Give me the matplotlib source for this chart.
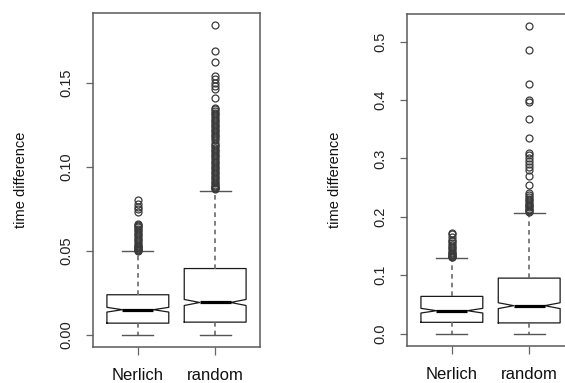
import matplotlib
matplotlib.use('Agg')
from matplotlib import pyplot as plt

# two boxplot panels, R style notched boxes
groups = ['Nerlich', 'random']

left_q1 = [0.0068, 0.0074]
left_med = [0.0148, 0.0191]
left_q3 = [0.0237, 0.0393]
left_whislo = [0.0, 0.0]
left_whishi = [0.0496, 0.0855]
left_notch = [0.0014, 0.0018]
left_fliers_nerlich = [0.0500, 0.0503, 0.0506, 0.051, 0.0515, 0.052, 0.0525, 0.053, 0.054,
                       0.055, 0.056, 0.057, 0.058, 0.059, 0.060, 0.061, 0.062, 0.063, 0.064,
                       0.0645, 0.065, 0.066, 0.073, 0.0745, 0.076, 0.078, 0.080]
left_fliers_random = [0.0865, 0.087, 0.0875, 0.088, 0.0885, 0.089, 0.090, 0.091, 0.092, 0.093,
                      0.094, 0.095, 0.096, 0.097, 0.098, 0.099, 0.100, 0.101, 0.102, 0.103,
                      0.104, 0.105, 0.106, 0.107, 0.108, 0.109, 0.110, 0.111, 0.112, 0.113,
                      0.114, 0.116, 0.117, 0.118, 0.119, 0.120, 0.121, 0.122, 0.123, 0.124,
                      0.125, 0.126, 0.127, 0.128, 0.129, 0.130, 0.131, 0.132, 0.133, 0.134,
                      0.135, 0.141, 0.146, 0.148, 0.150, 0.152, 0.154, 0.162, 0.169, 0.184]
left_yticks = [0.00, 0.05, 0.10, 0.15]
left_yticklabels = ['0.00', '0.05', '0.10', '0.15']

right_q1 = [0.0193, 0.0183]
right_med = [0.0392, 0.0478]
right_q3 = [0.0637, 0.0950]
right_whislo = [0.0, 0.0]
right_whishi = [0.130, 0.207]
right_notch = [0.0040, 0.0050]
right_fliers_nerlich = [0.131, 0.132, 0.133, 0.134, 0.136, 0.138, 0.140, 0.143, 0.146,
                        0.149, 0.152, 0.155, 0.158, 0.161, 0.165, 0.170, 0.173]
right_fliers_random = [0.209, 0.210, 0.212, 0.214, 0.216, 0.218, 0.220, 0.222, 0.225,
                       0.228, 0.231, 0.234, 0.237, 0.240, 0.255, 0.270, 0.280, 0.285,
                       0.290, 0.295, 0.300, 0.305, 0.310, 0.335, 0.367, 0.397, 0.400,
                       0.427, 0.486, 0.526]
right_yticks = [0.0, 0.1, 0.2, 0.3, 0.4, 0.5]
right_yticklabels = ['0.0', '0.1', '0.2', '0.3', '0.4', '0.5']

FONT = 'Liberation Sans'
plt.rcParams['font.family'] = FONT


def make_stats(q1, med, q3, lo, hi, notch, fliers):
    stats = []
    for i, name in enumerate(groups):
        stats.append(dict(label=name, q1=q1[i], med=med[i], q3=q3[i],
                          whislo=lo[i], whishi=hi[i],
                          cilo=med[i] - notch[i], cihi=med[i] + notch[i],
                          fliers=fliers[i]))
    return stats


def panel(ax, stats, ylim, yticks, yticklabels):
    ax.bxp(stats, positions=[1, 2], widths=0.8, shownotches=True,
           boxprops=dict(color='#1a1a1a', linewidth=0.9),
           medianprops=dict(color='#000000', linewidth=2.3, solid_capstyle='butt'),
           whiskerprops=dict(color='#6a6a6a', linewidth=1.2, linestyle=(0, (2.8, 2.4))),
           capprops=dict(color='#555555', linewidth=1.0),
           flierprops=dict(marker='o', markerfacecolor='none', markeredgecolor='#3a3a3a',
                           markersize=5, markeredgewidth=0.9, linestyle='none'))
    ax.set_xlim(0.42, 2.58)
    ax.set_ylim(*ylim)
    ax.set_yticks(yticks)
    ax.set_yticklabels(yticklabels, rotation=90, va='center', fontsize=10.5, color='#222222')
    ax.set_xticks([1, 2])
    ax.set_xticklabels(groups, fontsize=12, color='#111111')
    ax.tick_params(axis='y', length=5, width=0.9, color='#666666', pad=9)
    ax.tick_params(axis='x', length=6, width=0.9, color='#666666', pad=9)
    for s in ax.spines.values():
        s.set_color('#5a5a5a')
        s.set_linewidth(1.1)
    ax.text(-0.43, 0.5, 'time difference', transform=ax.transAxes, rotation=90,
            ha='center', va='center', fontsize=10.5, color='#111111')


fig = plt.figure(figsize=(5.65, 3.83), dpi=100)
ax1 = fig.add_axes([0.1646, 0.094, 0.2956, 0.872])
ax2 = fig.add_axes([0.7204, 0.097, 0.2956, 0.866])

panel(ax1, make_stats(left_q1, left_med, left_q3, left_whislo, left_whishi, left_notch,
                      [left_fliers_nerlich, left_fliers_random]),
      (-0.0074, 0.1914), left_yticks, left_yticklabels)
panel(ax2, make_stats(right_q1, right_med, right_q3, right_whislo, right_whishi, right_notch,
                      [right_fliers_nerlich, right_fliers_random]),
      (-0.021, 0.547), right_yticks, right_yticklabels)

fig.savefig('out.png', dpi=100)
